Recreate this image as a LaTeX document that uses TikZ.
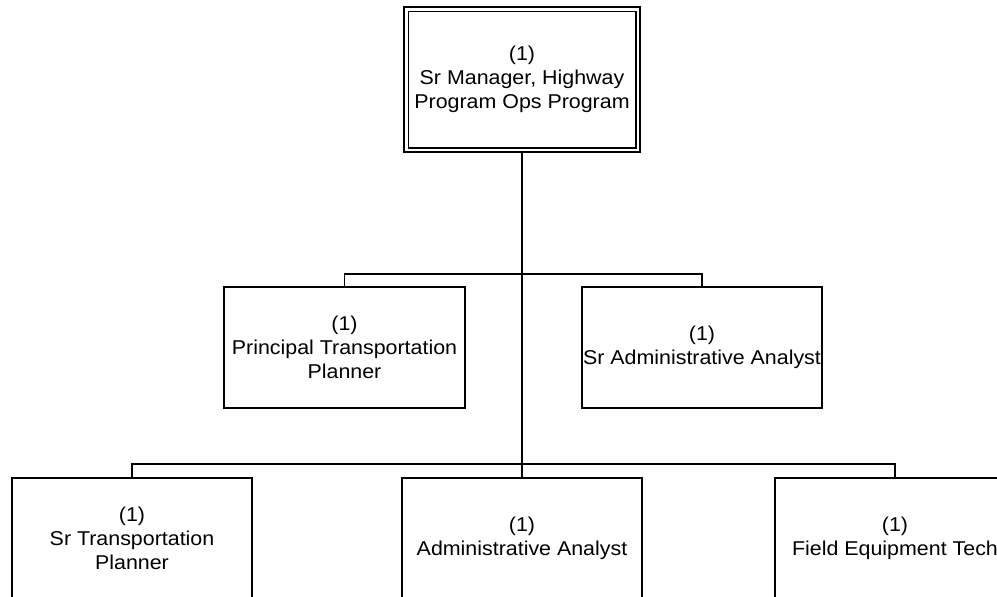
\documentclass[tikz,border=0pt]{standalone}
\usepackage{fontspec}
\setmainfont{Liberation Sans}[FakeStretch=1.07]
\begin{document}
\begin{tikzpicture}[x=1pt,y=-1pt,
  box/.style={draw=black,line width=1.5pt,minimum width=240pt,minimum height=121pt,
    inner sep=0pt,align=center,font=\fontsize{20}{24}\selectfont},
  link/.style={draw=black,line width=1.6pt}]
\useasboundingbox (0,0) rectangle (997,597);
\node[box,minimum width=236pt,minimum height=145pt] (top) at (522,79.5)
  {(1)\\Sr Manager, Highway\\Program Ops Program};
\draw[line width=1.5pt] ([shift={(5,5)}]top.north west) rectangle ([shift={(-5,-5)}]top.south east);
\node[box,minimum width=241pt] (ml) at (344.5,347.5) {(1)\\Principal Transportation\\Planner};
\node[box] (mr) at (702,347.5) {(1)\\Sr Administrative Analyst};
\node[box] (bl) at (132,538.5) {(1)\\Sr Transportation\\Planner};
\node[box] (bm) at (522,538.5) {(1)\\Administrative Analyst};
\node[box] (br) at (895,538.5) {(1)\\Field Equipment Tech};
\draw[link] (top.south) -- (bm.north);
\draw[link] (ml.north) -- ++(0,-12) -| (mr.north);
\draw[link] (bl.north) -- ++(0,-13) -| (br.north);
\end{tikzpicture}
\end{document}
